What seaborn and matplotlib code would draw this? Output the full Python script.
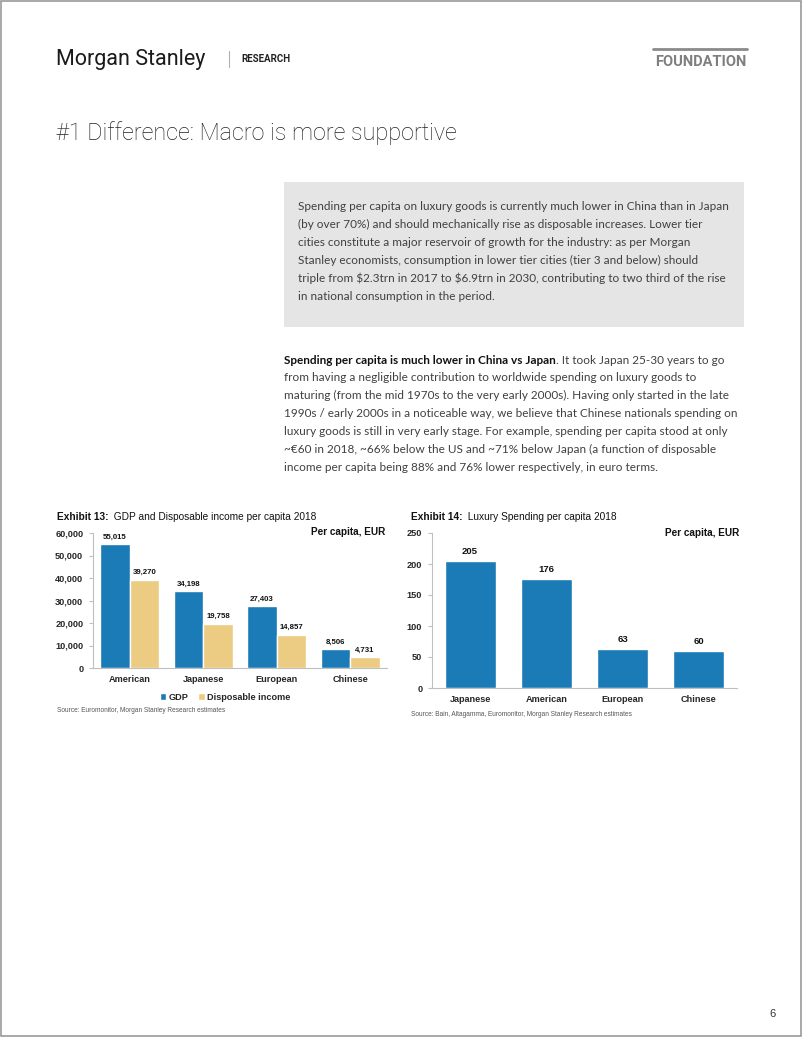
import matplotlib
matplotlib.use("Agg")
import matplotlib.pyplot as plt
from matplotlib.patches import Rectangle
from matplotlib.ticker import StrMethodFormatter
import numpy as np
import pandas as pd
import seaborn as sns

# --- data ---
regions_income = ["American", "Japanese", "European", "Chinese"]
gdp = [55015, 34198, 27403, 8506]
disposable = [39270, 19758, 14857, 4731]
series_names = ["GDP", "Disposable income"]

regions_luxury = ["Japanese", "American", "European", "Chinese"]
luxury = [205, 176, 63, 60]

box_lines = [
    "Spending per capita on luxury goods is currently much lower in China than in Japan",
    "(by over 70%) and should mechanically rise as disposable increases. Lower tier",
    "cities constitute a major reservoir of growth for the industry: as per Morgan",
    "Stanley economists, consumption in lower tier cities (tier 3 and below) should",
    "triple from $2.3trn in 2017 to $6.9trn in 2030, contributing to two third of the rise",
    "in national consumption in the period.",
]
para_bold = "Spending per capita is much lower in China vs Japan"
para_lines = [
    ". It took Japan 25-30 years to go",
    "from having a negligible contribution to worldwide spending on luxury goods to",
    "maturing (from the mid 1970s to the very early 2000s). Having only started in the late",
    "1990s / early 2000s in a noticeable way, we believe that Chinese nationals spending on",
    "luxury goods is still in very early stage. For example, spending per capita stood at only",
    "~€60 in 2018, ~66% below the US and ~71% below Japan (a function of disposable",
    "income per capita being 88% and 76% lower respectively, in euro terms.",
]

BLUE = "#1b7bb6"
TAN = "#eccb82"
AXIS_GREY = "#bfbfbf"
W, H = 802, 1037
BODY = 8.5

sns.set_theme(style="white")
plt.rcParams["font.family"] = ["Liberation Sans", "DejaVu Sans"]

fig = plt.figure(figsize=(W / 100, H / 100), dpi=100)
fig.patch.set_facecolor("white")

# page layer in pixel coordinates
page = fig.add_axes([0, 0, 1, 1])
page.set_xlim(0, W)
page.set_ylim(H, 0)
page.axis("off")

page.add_patch(Rectangle((0.5, 0.5), W - 1.5, H - 1.5, fill=False, edgecolor="#9a9a9a", lw=1.2))

# header
page.text(56, 59, "Morgan Stanley", family="Roboto", fontsize=15.5, color="#1a1a1a", va="center")
page.plot([229, 229], [51, 67], color="#b0b0b0", lw=0.8)
page.text(241, 59, "RESEARCH", family="Roboto", weight="bold", fontsize=7, color="#222222",
          va="center")
page.plot([653, 747], [48.5, 48.5], color="#8a8a8a", lw=2)
page.text(747, 62, "FOUNDATION", family="Roboto", weight="bold", fontsize=10.5, color="#7f7f7f",
          va="center", ha="right")

page.text(56, 133, "#1 Difference: Macro is more supportive", family="Roboto", weight="light",
          fontsize=16.8, color="#222222", va="center")

# grey call-out box
page.add_patch(Rectangle((284, 182), 460, 145, facecolor="#e5e5e5", edgecolor="none"))
for i, line in enumerate(box_lines):
    page.text(298, 206 + 18 * i, line, family="Lato", fontsize=BODY, color="#404040", va="center",
              parse_math=False)

# body paragraph with bold lead
t_bold = page.text(284, 360, para_bold, family="Lato", weight="bold", fontsize=BODY,
                   color="#111111", va="center")
page.annotate(para_lines[0], xy=(1, 0), xycoords=t_bold, va="bottom", ha="left", family="Lato",
              fontsize=BODY, color="#404040")
for i, line in enumerate(para_lines[1:], start=1):
    page.text(284, 360 + 17.9 * i, line, family="Lato", fontsize=BODY, color="#404040",
              va="center")

page.text(772, 1014, "6", fontsize=8, color="#333333", va="center", ha="center")


def style_axis(ax, n):
    sns.despine(ax=ax)
    for s in ["left", "bottom"]:
        ax.spines[s].set_color(AXIS_GREY)
        ax.spines[s].set_linewidth(0.8)
    ax.set_xlim(-0.5, n - 0.5)
    ax.set_xlabel("")
    ax.set_ylabel("")
    ax.set_xticks(np.arange(-0.5, n, 1), minor=True)
    ax.tick_params(axis="x", which="major", length=0, pad=5, labelsize=6.6)
    ax.tick_params(axis="x", which="minor", length=3, color=AXIS_GREY, width=0.8, direction="out")
    ax.tick_params(axis="y", length=3, color=AXIS_GREY, width=0.8, direction="out", pad=4,
                   labelsize=6.6, left=True)
    for lab in ax.get_xticklabels() + ax.get_yticklabels():
        lab.set_fontweight("bold")
    ax.set_facecolor("none")


def exhibit_title(num, text, x):
    tb = page.text(x, 517, f"Exhibit {num}:", weight="bold", fontsize=7.3, color="#111111",
                   va="center")
    page.annotate("  " + text, xy=(1, 0), xycoords=tb, va="bottom", fontsize=7.3, color="#111111")


# --- Exhibit 13 ---
df13 = pd.DataFrame({
    "region": regions_income * 2,
    "value": gdp + disposable,
    "series": [series_names[0]] * len(gdp) + [series_names[1]] * len(disposable),
})
ax1 = fig.add_axes([93 / W, 1 - 668 / H, (387 - 93) / W, (668 - 533) / H])
sns.barplot(data=df13, x="region", y="value", hue="series", palette=[BLUE, TAN], saturation=1,
            width=0.8, errorbar=None, ax=ax1)
ax1.set_ylim(0, 60000)
ax1.set_yticks(np.arange(0, 60001, 10000))
ax1.yaxis.set_major_formatter(StrMethodFormatter("{x:,.0f}"))
style_axis(ax1, len(regions_income))
for cont in ax1.containers:
    ax1.bar_label(cont, labels=[f"{v:,.0f}" for v in cont.datavalues], padding=2.5, fontsize=5.6,
                  fontweight="bold", color="#111111")
handles, labels = ax1.get_legend_handles_labels()
ax1.legend(handles, labels, loc="center", bbox_to_anchor=(225 / W, 1 - 697 / H),
           bbox_transform=fig.transFigure, ncol=2, frameon=False, handlelength=0.75,
           handleheight=0.75, handletextpad=0.25, columnspacing=1.0,
           prop={"size": 6.6, "weight": "bold"})
exhibit_title(13, "GDP and Disposable income per capita 2018", 57)
page.text(385, 532, "Per capita, EUR", weight="bold", fontsize=7.2, ha="right", va="center",
          color="#111111")
page.text(57, 710, "Source: Euromonitor, Morgan Stanley Research estimates", fontsize=4.7,
          color="#555555", va="center")

# --- Exhibit 14 ---
df14 = pd.DataFrame({"region": regions_luxury, "value": luxury})
ax2 = fig.add_axes([432 / W, 1 - 688 / H, (737 - 432) / W, (688 - 533) / H])
sns.barplot(data=df14, x="region", y="value", color=BLUE, saturation=1, width=0.67,
            errorbar=None, ax=ax2)
ax2.set_ylim(0, 250)
ax2.set_yticks(np.arange(0, 251, 50))
style_axis(ax2, len(regions_luxury))
for cont in ax2.containers:
    ax2.bar_label(cont, labels=[f"{v:.0f}" for v in cont.datavalues], padding=3.5, fontsize=6.8,
                  fontweight="bold", color="#111111")
exhibit_title(14, "Luxury Spending per capita 2018", 411)
page.text(739, 533, "Per capita, EUR", weight="bold", fontsize=7.2, ha="right", va="center",
          color="#111111")
page.text(411, 714, "Source: Bain, Altagamma, Euromonitor, Morgan Stanley Research estimates",
          fontsize=4.7, color="#555555", va="center")

fig.savefig("out.png", dpi=100)
